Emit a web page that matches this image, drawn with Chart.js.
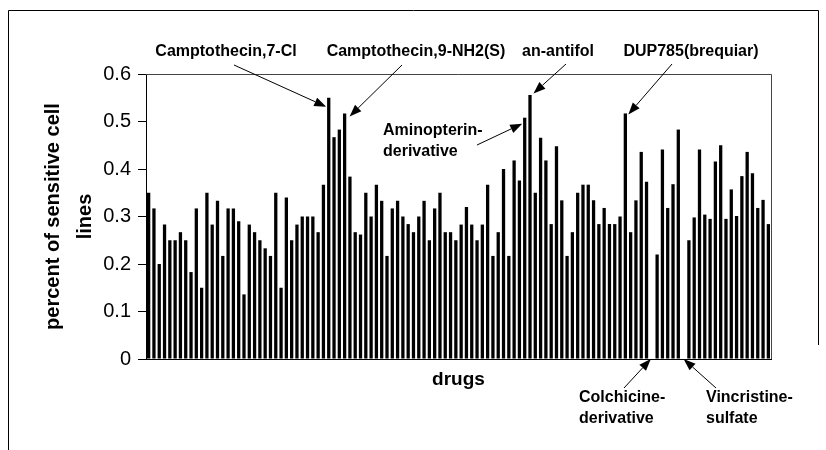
<!DOCTYPE html>
<html>
<head>
<meta charset="utf-8">
<script src="https://cdn.jsdelivr.net/npm/chart.js@4.4.1/dist/chart.umd.min.js"></script>
<style>
  html, body { margin: 0; padding: 0; background: #fff; }
  #wrap { width: 826px; height: 450px; position: relative; }
</style>
</head>
<body>
<div id="wrap"><canvas id="c" width="826" height="450"></canvas></div>
<script>
// ---- data ----
const drugValues = [
  0.35, 0.317, 0.2, 0.283, 0.25, 0.25, 0.267, 0.25, 0.183, 0.317,
  0.15, 0.35, 0.283, 0.333, 0.217, 0.317, 0.317, 0.29, 0.136, 0.283,
  0.267, 0.25, 0.233, 0.217, 0.35, 0.15, 0.34, 0.25, 0.283, 0.3,
  0.3, 0.3, 0.267, 0.367, 0.55, 0.467, 0.483, 0.517, 0.384, 0.267,
  0.262, 0.35, 0.3, 0.367, 0.333, 0.217, 0.317, 0.333, 0.3, 0.284,
  0.267, 0.3, 0.333, 0.25, 0.317, 0.35, 0.267, 0.267, 0.25, 0.283,
  0.32, 0.283, 0.25, 0.283, 0.367, 0.217, 0.267, 0.4, 0.217, 0.418,
  0.376, 0.508, 0.556, 0.35, 0.466, 0.418, 0.284, 0.448, 0.334, 0.217,
  0.267, 0.35, 0.367, 0.367, 0.334, 0.284, 0.318, 0.284, 0.284, 0.3,
  0.517, 0.267, 0.334, 0.436, 0.373, 0, 0.22, 0.441, 0.318, 0.368,
  0.483, 0, 0.25, 0.298, 0.441, 0.304, 0.295, 0.416, 0.45, 0.295,
  0.357, 0.301, 0.385, 0.436, 0.391, 0.318, 0.335, 0.284
];
const drugCategories = drugValues.map((v, i) => 'drug ' + (i + 1));
const yTickValues = [0, 0.1, 0.2, 0.3, 0.4, 0.5, 0.6];
const yAxisTitle = ['percent of sensitive cell', 'lines'];
const xAxisTitle = 'drugs';

// annotated drugs: index into drugCategories and label lines
const annotationBars   = [34, 37, 72, 90, 71, 95, 101];
const annotationLabels = [
  ['Camptothecin,7-Cl'],
  ['Camptothecin,9-NH2(S)'],
  ['an-antifol'],
  ['DUP785(brequiar)'],
  ['Aminopterin-', 'derivative'],
  ['Colchicine-', 'derivative'],
  ['Vincristine-', 'sulfate']
];

// ---- layout of annotations (pixels, not data) ----
const annotLayout = [
  { lx: 226, ly: 52, align: 'center', tail: [234, 65],  dx: -2.5, dy: 9 },
  { lx: 416, ly: 52, align: 'center', tail: [402, 65],  dx: 5,    dy: 3 },
  { lx: 558, ly: 52, align: 'center', tail: [566, 64],  dx: 3.5,  dy: -1.5 },
  { lx: 691, ly: 52, align: 'center', tail: [672, 64],  dx: 3,    dy: 1 },
  { lx: 383, ly: 131, align: 'left',  tail: [477, 145], dx: -2.5, dy: 6 },
  { lx: 579, ly: 398, align: 'left',  tail: [624, 388], dx: -1,   dy: 0 },
  { lx: 706, ly: 398, align: 'left',  tail: [716, 388], dx: 0,    dy: 0 }
];

const FONT = "'Liberation Sans', Arial, Helvetica, sans-serif";

const framePlugin = {
  id: 'frame',
  beforeDraw(chart) {
    const ctx = chart.ctx;
    ctx.save();
    ctx.fillStyle = '#fff';
    ctx.fillRect(0, 0, chart.width, chart.height);
    ctx.strokeStyle = '#000';
    ctx.lineWidth = 1;
    ctx.beginPath();
    ctx.moveTo(8.5, 450);
    ctx.lineTo(8.5, 10.5);
    ctx.lineTo(818.5, 10.5);
    ctx.lineTo(818.5, 345);
    ctx.stroke();
    ctx.restore();
  },
  afterDraw(chart) {
    const {ctx, chartArea: a} = chart;
    ctx.save();
    ctx.strokeStyle = '#444';
    ctx.lineWidth = 1;
    ctx.beginPath();
    ctx.moveTo(a.left, Math.round(a.top) + 0.5);
    ctx.lineTo(Math.round(a.right) + 0.5, Math.round(a.top) + 0.5);
    ctx.lineTo(Math.round(a.right) + 0.5, a.bottom);
    ctx.stroke();
    ctx.restore();
  }
};

const annotationPlugin = {
  id: 'annots',
  afterDraw(chart) {
    const ctx = chart.ctx;
    const xs = chart.scales.x, ys = chart.scales.y;
    ctx.save();
    ctx.fillStyle = '#000';
    ctx.strokeStyle = '#000';
    ctx.font = 'bold 16px ' + FONT;
    ctx.textBaseline = 'middle';
    annotationBars.forEach((bi, k) => {
      const L = annotLayout[k];
      const lines = annotationLabels[k];
      ctx.textAlign = L.align;
      lines.forEach((t, j) => ctx.fillText(t, L.lx, L.ly + j * 21));
      const tipX = xs.getPixelForValue(bi) + L.dx;
      const tipY = ys.getPixelForValue(drugValues[bi]) + L.dy;
      const [tx, ty] = L.tail;
      const ang = Math.atan2(tipY - ty, tipX - tx);
      const hl = 12, hw = 4.5;
      const bx = tipX - hl * Math.cos(ang), by = tipY - hl * Math.sin(ang);
      ctx.lineWidth = 1;
      ctx.beginPath();
      ctx.moveTo(tx, ty);
      ctx.lineTo(bx, by);
      ctx.stroke();
      ctx.beginPath();
      ctx.moveTo(tipX, tipY);
      ctx.lineTo(bx + hw * Math.sin(ang), by - hw * Math.cos(ang));
      ctx.lineTo(bx - hw * Math.sin(ang), by + hw * Math.cos(ang));
      ctx.closePath();
      ctx.fill();
    });
    ctx.restore();
  }
};

new Chart(document.getElementById('c'), {
  type: 'bar',
  data: {
    labels: drugCategories,
    datasets: [{
      data: drugValues,
      backgroundColor: '#000',
      borderWidth: 0,
      barPercentage: 0.62,
      categoryPercentage: 1.0
    }]
  },
  options: {
    responsive: false,
    animation: false,
    events: [],
    layout: { padding: { top: 74, right: 55, left: 0, bottom: 0 } },
    plugins: { legend: { display: false }, tooltip: { enabled: false }, title: { display: false } },
    scales: {
      x: {
        afterFit: s => { s.height = 91; },
        grid: { display: false, drawTicks: false },
        border: { display: true, color: '#000', width: 1 },
        ticks: { display: false },
        title: {
          display: true, text: xAxisTitle, color: '#000',
          font: { family: FONT, size: 19, weight: 'bold' },
          padding: { top: 0, bottom: 59 }
        }
      },
      y: {
        min: 0, max: 0.6,
        afterFit: s => { s.width = 146; },
        afterBuildTicks: s => { s.ticks = yTickValues.map(v => ({ value: v })); },
        grid: { drawOnChartArea: false, drawTicks: true, tickLength: 8, color: '#000' },
        border: { display: true, color: '#000', width: 1 },
        ticks: {
          color: '#000', padding: 7,
          font: { family: FONT, size: 20 },
          callback: v => (v === 0 ? '0' : v.toFixed(1))
        },
        title: {
          display: true, text: yAxisTitle, color: '#000',
          font: { family: FONT, size: 20, weight: 'bold', lineHeight: 1.6 },
          padding: { top: 37, bottom: 0 }
        }
      }
    }
  },
  plugins: [framePlugin, annotationPlugin]
});
</script>
</body>
</html>
